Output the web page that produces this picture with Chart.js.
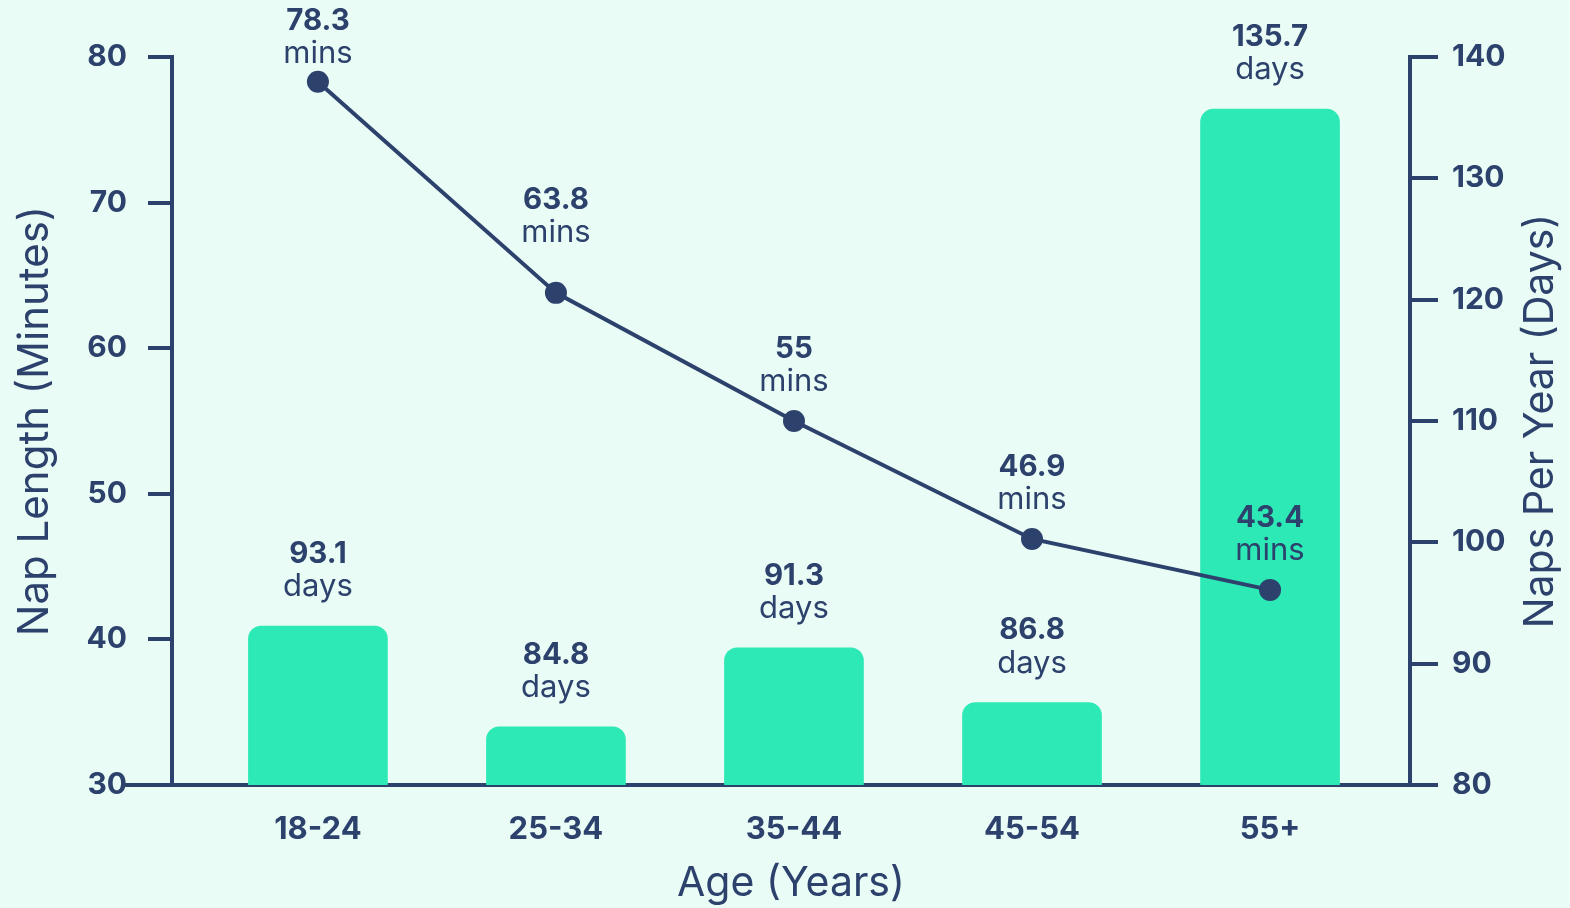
<!DOCTYPE html>
<html>
<head>
<meta charset="utf-8">
<title>Nap length and naps per year by age</title>
<script src="https://cdn.jsdelivr.net/npm/chart.js@4/dist/chart.umd.min.js"></script>
<style>
  html, body { margin: 0; padding: 0; background: #e9fcf5; }
  #wrap { width: 1570px; height: 908px; }
  canvas { display: block; }
</style>
</head>
<body>
<div id="wrap"><canvas id="napChart" width="1570" height="908"></canvas></div>
<script>
// ---- data ----
const ageGroups = ['18-24', '25-34', '35-44', '45-54', '55+'];
const napMinutes = [78.3, 63.8, 55, 46.9, 43.4];      // line, left axis
const napsPerYear = [93.1, 84.8, 91.3, 86.8, 135.7];  // bars, right axis
const minutesTicks = [30, 40, 50, 60, 70, 80];
const daysTicks = [80, 90, 100, 110, 120, 130, 140];

// ---- styles ----
const NAVY = '#2d416d';
const MINT = '#2ce9b5';
const FONT = 'Inter, "Open Sans", sans-serif';
// extra lift for line labels that would otherwise sit on the line
const lineLabelLift = [0, 21, 0, 0, 0];

Chart.defaults.font.family = FONT;
Chart.defaults.color = NAVY;

// two-line labels: bold value above a unit word, kept inside the canvas
const valueLabels = {
  id: 'valueLabels',
  afterDatasetsDraw(chart) {
    const ctx = chart.ctx;
    chart.data.datasets.forEach((ds, di) => {
      const meta = chart.getDatasetMeta(di);
      meta.data.forEach((el, i) => {
        const v = ds.data[i].y;
        const lift = ds.type === 'line' ? lineLabelLift[i] : 0;
        let valueY = el.y - 72 - lift;
        const push = Math.max(0, 21 - valueY);
        valueY += push;
        ctx.save();
        ctx.fillStyle = NAVY;
        ctx.textAlign = 'center';
        ctx.textBaseline = 'middle';
        ctx.font = 'bold 29.5px ' + FONT;
        ctx.fillText(String(v), el.x, valueY);
        ctx.font = '31px ' + FONT;
        ctx.fillText(ds.unit, el.x, valueY + 33);
        ctx.restore();
      });
    });
  }
};

// right-hand title reads bottom to top, plus the short run of base line left of the axis
const axisExtras = {
  id: 'axisExtras',
  afterDraw(chart) {
    const ctx = chart.ctx;
    const area = chart.chartArea;
    ctx.save();
    ctx.strokeStyle = NAVY;
    ctx.lineWidth = 4;
    ctx.beginPath();
    ctx.moveTo(area.left - 47, area.bottom);
    ctx.lineTo(area.left, area.bottom);
    ctx.stroke();

    ctx.translate(1541, (area.top + area.bottom) / 2);
    ctx.rotate(-Math.PI / 2);
    ctx.fillStyle = NAVY;
    ctx.font = '41px ' + FONT;
    ctx.textAlign = 'center';
    ctx.textBaseline = 'middle';
    ctx.fillText('Naps Per Year (Days)', 0, 0);
    ctx.restore();
  }
};

const tickSetter = list => scale => { scale.ticks = list.map(v => ({ value: v })); };

new Chart(document.getElementById('napChart'), {
  type: 'bar',
  data: {
    datasets: [
      {
        type: 'line',
        label: 'Nap Length (Minutes)',
        unit: 'mins',
        data: napMinutes.map((v, i) => ({ x: i, y: v })),
        yAxisID: 'yMin',
        borderColor: NAVY,
        backgroundColor: NAVY,
        borderWidth: 4,
        pointRadius: 11,
        pointHoverRadius: 11,
        pointBorderWidth: 0,
        pointBackgroundColor: NAVY,
        tension: 0,
        order: 0
      },
      {
        type: 'bar',
        label: 'Naps Per Year (Days)',
        unit: 'days',
        data: napsPerYear.map((v, i) => ({ x: i, y: v })),
        yAxisID: 'yDays',
        backgroundColor: MINT,
        borderRadius: 13,
        borderSkipped: 'start',
        barThickness: 139,
        order: 1
      }
    ]
  },
  options: {
    responsive: false,
    animation: false,
    devicePixelRatio: 1,
    layout: { padding: { top: 57, left: 0, right: 0, bottom: 0 } },
    plugins: { legend: { display: false }, tooltip: { enabled: false } },
    scales: {
      x: {
        type: 'linear',
        offset: false,
        min: -0.613,
        max: 4.588,
        afterBuildTicks: tickSetter(ageGroups.map((_, i) => i)),
        afterFit: s => { s.height = 123; },
        grid: { display: false, offset: false },
        border: { display: true, color: NAVY, width: 4 },
        ticks: {
          callback: v => ageGroups[v],
          font: { size: 31, weight: 'bold' },
          color: NAVY,
          padding: 18,
          maxRotation: 0,
          autoSkip: false
        },
        title: {
          display: true,
          text: 'Age (Years)',
          font: { size: 41 },
          color: NAVY,
          padding: { top: 0, bottom: 0 }
        }
      },
      yMin: {
        type: 'linear',
        position: 'left',
        min: 30,
        max: 80,
        afterBuildTicks: tickSetter(minutesTicks),
        afterFit: s => { s.width = 172; },
        grid: { display: true, drawOnChartArea: false, drawTicks: true, tickLength: 24, color: NAVY, lineWidth: 4 },
        border: { display: true, color: NAVY, width: 4 },
        ticks: { font: { size: 30, weight: 'bold' }, color: NAVY, padding: 21 },
        title: {
          display: true,
          text: 'Nap Length (Minutes)',
          font: { size: 42 },
          color: NAVY,
          padding: { top: 10, bottom: 0 }
        }
      },
      yDays: {
        type: 'linear',
        position: 'right',
        min: 80,
        max: 140,
        afterBuildTicks: tickSetter(daysTicks),
        afterFit: s => { s.width = 160; },
        grid: { display: true, drawOnChartArea: false, drawTicks: true, tickLength: 28, color: NAVY, lineWidth: 4 },
        border: { display: true, color: NAVY, width: 4 },
        ticks: { font: { size: 30, weight: 'bold' }, color: NAVY, padding: 14 },
        title: { display: false }
      }
    }
  },
  plugins: [valueLabels, axisExtras]
});
</script>
</body>
</html>
